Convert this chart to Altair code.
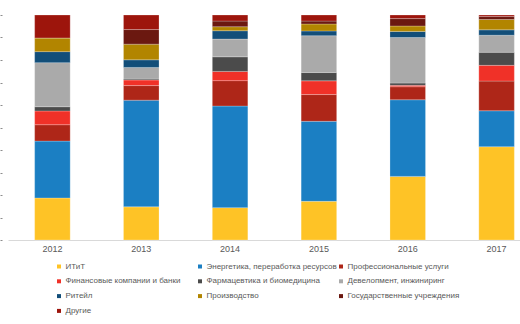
import altair as alt
import pandas as pd

years = ["2012", "2013", "2014", "2015", "2016", "2017"]
categories = [
    "ИТиТ",
    "Энергетика, переработка ресурсов",
    "Профессиональные услуги",
    "Финансовые компании и банки",
    "Фармацевтика и биомедицина",
    "Девелопмент, инжиниринг",
    "Ритейл",
    "Производство",
    "Государственные учреждения",
    "Другие",
]
colors = ["#FEC326", "#1B7FC3", "#AE2618", "#F03128", "#4B4B4B",
          "#AAAAAA", "#124E79", "#B28500", "#6B1810", "#9D150C"]

it = [18.7, 14.8, 14.4, 17.2, 28.3, 41.5]
energy = [25.3, 47.6, 45.2, 35.6, 34.1, 16.0]
prof = [7.3, 6.5, 11.3, 11.9, 5.8, 13.2]
fin = [6.1, 2.5, 4.1, 6.1, 0.6, 7.0]
pharma = [1.9, 0.4, 6.5, 3.7, 1.0, 5.8]
devel = [19.6, 5.2, 7.9, 16.4, 20.3, 7.6]
retail = [4.9, 3.4, 3.7, 2.1, 2.7, 2.4]
prod = [6.1, 7.0, 1.8, 3.1, 2.4, 4.6]
gov = [0.0, 6.5, 2.5, 1.3, 3.3, 1.3]
other = [10.2, 6.5, 2.7, 2.7, 1.6, 0.7]

series = [it, energy, prof, fin, pharma, devel, retail, prod, gov, other]
rows = []
for ci, (cat, vals) in enumerate(zip(categories, series)):
    for y, v in zip(years, vals):
        rows.append({"year": y, "cat": cat, "idx": ci, "value": v})
df = pd.DataFrame(rows)

font = "Liberation Sans"

chart = alt.Chart(df).mark_bar(stroke="white", strokeWidth=0.4, strokeOpacity=0.6).encode(
    x=alt.X("year:N", sort=years, title=None,
            scale=alt.Scale(range=[0, 533], paddingInner=0.6, paddingOuter=0.3),
            axis=alt.Axis(labelAngle=0, ticks=False, domainColor="#D9D9D9",
                          labelFont=font, labelFontSize=9, labelColor="#595959",
                          labelPadding=4, grid=False)),
    y=alt.Y("value:Q", stack="normalize", title=None,
            scale=alt.Scale(domain=[0, 1], nice=False),
            axis=alt.Axis(values=[i / 10 for i in range(11)], labels=False, domain=False,
                          tickSize=2, offset=6, tickColor="#8C8C8C", grid=False)),
    color=alt.Color("cat:N", sort=categories,
                    scale=alt.Scale(domain=categories, range=colors),
                    legend=alt.Legend(title=None, orient="none", legendX=47, legendY=247.5,
                                      direction="horizontal",
                                      columns=3, gridAlign="all", columnPadding=-2.5,
                                      rowPadding=6.8, symbolType="square", symbolSize=16,
                                      symbolStrokeWidth=0, labelOffset=2.5,
                                      labelFont=font, labelFontSize=8,
                                      labelColor="#595959", padding=0, labelLimit=300)),
    order=alt.Order("idx:Q", sort="ascending"),
).properties(
    width=512, height=225,
    autosize=alt.AutoSizeParams(type="none"),
    padding={"left": 8, "top": 15, "right": 0, "bottom": 84},
).configure_view(stroke=None)

chart.save("out.html", embed_options={"renderer": "svg", "actions": False})
